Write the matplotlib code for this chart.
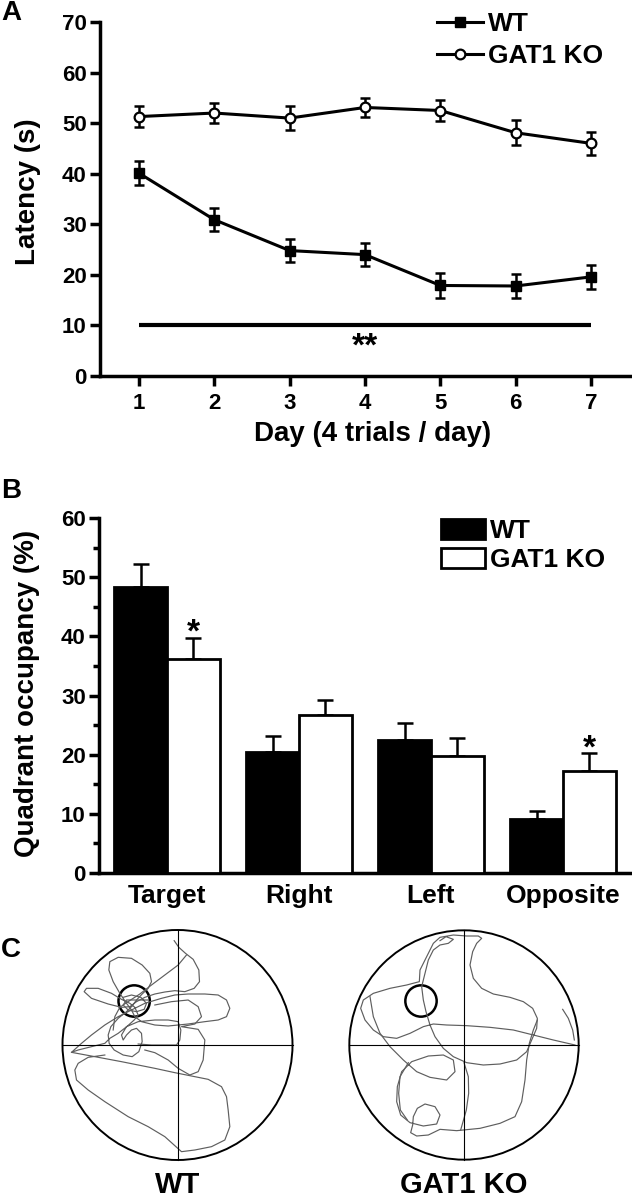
import matplotlib
matplotlib.use('Agg')
import matplotlib.pyplot as plt
from matplotlib.patches import Circle, Patch
import numpy as np

plt.rcParams['font.family'] = ['Liberation Sans', 'DejaVu Sans']
plt.rcParams['font.weight'] = 'bold'
plt.rcParams['axes.labelweight'] = 'bold'

# ---------------- data ----------------
# Panel A: escape latency across training days
days = [1, 2, 3, 4, 5, 6, 7]
wt_latency = [40.1, 30.9, 24.8, 24.0, 17.9, 17.8, 19.6]
wt_latency_sem = [2.4, 2.3, 2.3, 2.3, 2.5, 2.4, 2.3]
ko_latency = [51.3, 52.0, 51.0, 53.1, 52.5, 48.1, 46.0]
ko_latency_sem = [2.0, 2.0, 2.3, 1.9, 2.0, 2.5, 2.3]
sig_bar_days = [1, 7]
sig_bar_level = 10
sig_bar_text = '**'

# Panel B: probe-trial quadrant occupancy
quadrants = ['Target', 'Right', 'Left', 'Opposite']
wt_occ = [48.4, 20.5, 22.5, 9.2]
wt_occ_sem = [3.9, 2.7, 2.9, 1.3]
ko_occ = [36.2, 26.7, 19.7, 17.3]
ko_occ_sem = [3.6, 2.5, 3.2, 2.9]
ko_star = [True, False, False, True]

groups = ['WT', 'GAT1 KO']

# Panel C: swim tracks in camera coordinates (pool centre / radius / platform)
wt_pool = (368, 375, 345)
wt_platform = (238, 243, 47)
ko_pool = (372, 375, 344)
ko_platform = (243, 243, 47)

wt_track = [
    [(358, 62), (372, 82), (392, 100), (415, 118), (432, 150), (434, 185), (418, 205),
     (390, 215), (360, 212), (330, 216), (300, 222), (270, 232), (245, 245), (225, 260),
     (200, 262), (160, 252), (110, 235), (88, 215), (95, 205), (130, 205), (170, 220),
     (200, 238), (225, 250), (240, 262), (250, 285), (238, 300), (218, 318), (190, 340),
     (165, 355), (150, 370), (110, 380), (70, 390), (50, 397), (80, 370), (110, 345),
     (150, 315), (190, 290), (230, 270), (270, 250), (320, 235), (360, 225), (400, 222),
     (450, 222), (490, 225), (515, 240), (525, 265), (515, 290), (490, 300), (450, 305),
     (400, 312), (340, 318), (300, 315), (260, 305), (240, 290), (230, 270), (215, 250),
     (195, 220), (175, 185), (162, 150), (165, 125), (190, 112), (230, 115), (262, 135),
     (285, 160), (290, 185), (280, 205), (262, 222), (245, 240), (232, 258), (215, 275),
     (190, 295), (168, 320), (160, 345), (163, 370), (178, 390), (205, 405), (232, 410),
     (252, 395), (262, 365), (260, 340), (245, 325), (230, 330), (215, 345), (205, 360),
     (200, 345), (215, 320), (250, 305), (300, 300), (340, 300), (370, 305), (378, 330),
     (375, 360), (365, 375), (330, 375), (290, 375), (250, 372)],
    [(395, 105), (370, 135), (330, 165), (290, 195), (255, 222), (215, 248), (195, 262),
     (180, 290), (175, 330)],
    [(300, 255), (350, 245), (400, 240), (430, 260), (440, 290), (420, 312), (380, 320),
     (430, 328), (450, 360), (445, 420), (430, 455), (405, 465), (370, 445), (340, 420),
     (300, 398), (270, 390)],
    [(50, 397), (120, 410), (200, 425), (300, 445), (360, 458), (410, 468), (460, 478),
     (500, 500), (515, 530), (520, 570), (525, 620), (510, 660), (470, 680), (420, 690),
     (380, 695), (330, 650), (280, 620), (220, 590), (150, 545), (100, 510), (65, 480),
     (60, 450), (70, 430), (100, 412), (150, 405)],
    [(205, 232), (230, 225), (258, 232), (275, 250), (268, 268), (245, 275), (220, 270),
     (205, 255), (215, 240), (250, 240), (280, 240)],
]

ko_track = [
    [(300, 62), (318, 50), (340, 58), (325, 70), (300, 75), (280, 90), (265, 120),
     (255, 160), (245, 200), (250, 240), (258, 275), (270, 315), (285, 350), (310, 385),
     (340, 410), (380, 428), (430, 435), (480, 432), (530, 420), (560, 395), (575, 360),
     (590, 325), (592, 295), (578, 265), (550, 245), (510, 232), (460, 222), (425, 205),
     (400, 175), (390, 135), (398, 95), (410, 70), (425, 55), (415, 48), (380, 48),
     (340, 45), (300, 52), (280, 70), (265, 100), (240, 150), (238, 185), (200, 195),
     (150, 205), (100, 220), (70, 240), (62, 265), (75, 300), (100, 330), (130, 350),
     (170, 355), (210, 340), (250, 320), (280, 312), (320, 315), (380, 317), (450, 322),
     (520, 330), (580, 345), (640, 360), (705, 375)],
    [(90, 230), (100, 290), (120, 340), (150, 380), (190, 420), (230, 455), (270, 472),
     (320, 480), (345, 455), (340, 420), (310, 405), (265, 408), (215, 425), (185, 455),
     (172, 500), (170, 545), (182, 585), (210, 608), (250, 618), (290, 612), (300, 585),
     (285, 560), (255, 552), (232, 565), (220, 590), (218, 615), (212, 638), (230, 648),
     (265, 645), (300, 628), (350, 632), (420, 625), (480, 610), (525, 590), (545, 545),
     (555, 480), (560, 420), (568, 370), (580, 330), (592, 300)],
    [(205, 428), (180, 470), (176, 520), (181, 570), (202, 600)],
    [(372, 428), (385, 470), (386, 520), (379, 570), (362, 630)],
    [(668, 268), (685, 295), (698, 330), (703, 360)],
]

# ---------------- figure ----------------
W, H = 632, 1200
fig = plt.figure(figsize=(W / 100, H / 100), dpi=100)


def ax_px(left, top, right, bottom):
    return fig.add_axes([left / W, 1 - bottom / H, (right - left) / W, (bottom - top) / H])


AX_LW = 2.5
TICK_FS = 16
LABEL_FS = 20

# ---------- Panel A ----------
axA = ax_px(100, 22, 630, 376)
axA.errorbar(days, wt_latency, yerr=wt_latency_sem, fmt='none', ecolor='black',
             elinewidth=1.8, capsize=3.6, capthick=1.8, zorder=2)
axA.errorbar(days, ko_latency, yerr=ko_latency_sem, fmt='none', ecolor='black',
             elinewidth=1.8, capsize=3.6, capthick=1.8, zorder=2)
lwt, = axA.plot(days, wt_latency, '-s', color='black', lw=2.2, ms=7.2, zorder=3, label=groups[0])
lko, = axA.plot(days, ko_latency, '-o', color='black', lw=2.2, ms=7, mfc='white',
                mec='black', mew=1.6, zorder=3, label=groups[1])
axA.plot(sig_bar_days, [sig_bar_level] * 2, color='black', lw=3, solid_capstyle='butt')
axA.annotate(sig_bar_text, xy=(np.mean(sig_bar_days), sig_bar_level), xytext=(0, -22),
             textcoords='offset points', ha='center', va='baseline', fontsize=24,
             fontweight='bold')

axA.set_xlim(0.482, 7.518)
axA.set_ylim(0, 70)
axA.set_xticks(days)
axA.set_yticks(range(0, 71, 10))
for s in ['top', 'right']:
    axA.spines[s].set_visible(False)
for s in ['left', 'bottom']:
    axA.spines[s].set_linewidth(AX_LW)
axA.tick_params(axis='both', direction='out', length=7, width=AX_LW, labelsize=TICK_FS)
axA.tick_params(axis='y', pad=2.5)
axA.tick_params(axis='x', pad=5.5)
axA.set_ylabel('Latency (s)', fontsize=LABEL_FS)
axA.yaxis.set_label_coords(-0.111, 0.52)
axA.set_xlabel('Day (4 trials / day)', fontsize=LABEL_FS)
axA.xaxis.set_label_coords(0.515, -0.127)
axA.legend(handles=[lwt, lko], loc='upper left', bbox_to_anchor=(437 / W, 1 - 12 / H),
           bbox_transform=fig.transFigure, frameon=False, fontsize=19, borderpad=0,
           borderaxespad=0, handlelength=1.74, handletextpad=0.2, labelspacing=0.3)

# ---------- Panel B ----------
axB = ax_px(99, 518, 630, 873)
x = np.arange(len(quadrants))
bw = 0.4
axB.bar(x - bw / 2, wt_occ, bw, color='black', edgecolor='black', lw=2, zorder=3)
axB.bar(x + bw / 2, ko_occ, bw, color='white', edgecolor='black', lw=2, zorder=3)
axB.errorbar(x - bw / 2, wt_occ, yerr=[np.zeros(4), wt_occ_sem], fmt='none', ecolor='black',
             elinewidth=1.8, capsize=5.8, capthick=1.8, zorder=2)
axB.errorbar(x + bw / 2, ko_occ, yerr=[np.zeros(4), ko_occ_sem], fmt='none', ecolor='black',
             elinewidth=1.8, capsize=5.8, capthick=1.8, zorder=2)
for i, flag in enumerate(ko_star):
    if flag:
        axB.annotate('*', xy=(x[i] + bw / 2, ko_occ[i] + ko_occ_sem[i]), xytext=(0, -3),
                     textcoords='offset points', ha='center', va='baseline', fontsize=24,
                     fontweight='bold')
axB.set_xlim(-0.515, 3.508)
axB.set_ylim(0, 60)
axB.set_xticks(x, quadrants)
axB.set_yticks(range(0, 61, 10))
axB.set_yticks(range(5, 60, 10), minor=True)
for s in ['top', 'right']:
    axB.spines[s].set_visible(False)
for s in ['left', 'bottom']:
    axB.spines[s].set_linewidth(AX_LW)
axB.tick_params(axis='y', which='major', direction='out', length=7, width=AX_LW,
                labelsize=TICK_FS, pad=2.5)
axB.tick_params(axis='y', which='minor', direction='out', length=4.3, width=AX_LW)
axB.tick_params(axis='x', length=0, labelsize=19, pad=8)
axB.set_ylabel('Quadrant occupancy (%)', fontsize=LABEL_FS)
axB.yaxis.set_label_coords(-0.111, 0.506)
legB = [Patch(facecolor='black', edgecolor='black', lw=2, label=groups[0]),
        Patch(facecolor='white', edgecolor='black', lw=2, label=groups[1])]
axB.legend(handles=legB, loc='upper left', bbox_to_anchor=(441 / W, 1 - 519 / H),
           bbox_transform=fig.transFigure, frameon=False, fontsize=19, borderpad=0,
           borderaxespad=0, handlelength=1.67, handleheight=0.76, handletextpad=0.2,
           labelspacing=0.2)


# ---------- Panel C ----------
def draw_pool(center_px, pool, platform, track, label):
    cx, cy, r = pool
    size = 240
    ax = ax_px(center_px[0] - size / 2, center_px[1] - size / 2,
               center_px[0] + size / 2, center_px[1] + size / 2)
    ax.set_xlim(cx - 360, cx + 360)
    ax.set_ylim(cy + 360, cy - 360)
    ax.set_aspect('equal')
    ax.axis('off')
    for seg in track:
        xs, ys = zip(*seg)
        ax.plot(xs, ys, color='#5e5e5e', lw=0.85, solid_joinstyle='round')
    ax.add_patch(Circle((cx, cy), r, fill=False, ec='black', lw=1.4))
    ax.plot([cx - r, cx + r], [cy, cy], color='black', lw=0.8)
    ax.plot([cx, cx], [cy - r, cy + r], color='black', lw=0.8)
    px, py, pr = platform
    ax.add_patch(Circle((px, py), pr, fill=False, ec='black', lw=1.8))
    fig.text(center_px[0] / W, 1 - 1193 / H, label, ha='center', va='baseline',
             fontsize=21, fontweight='bold')


draw_pool((177.5, 1045), wt_pool, wt_platform, wt_track, groups[0])
draw_pool((464, 1045), ko_pool, ko_platform, ko_track, groups[1])

# panel letters
for letter, ybase in [('A', 20), ('B', 498), ('C', 957)]:
    fig.text(1 / W, 1 - ybase / H, letter, ha='left', va='baseline', fontsize=20,
             fontweight='bold')

fig.savefig('out.png', dpi=100)
